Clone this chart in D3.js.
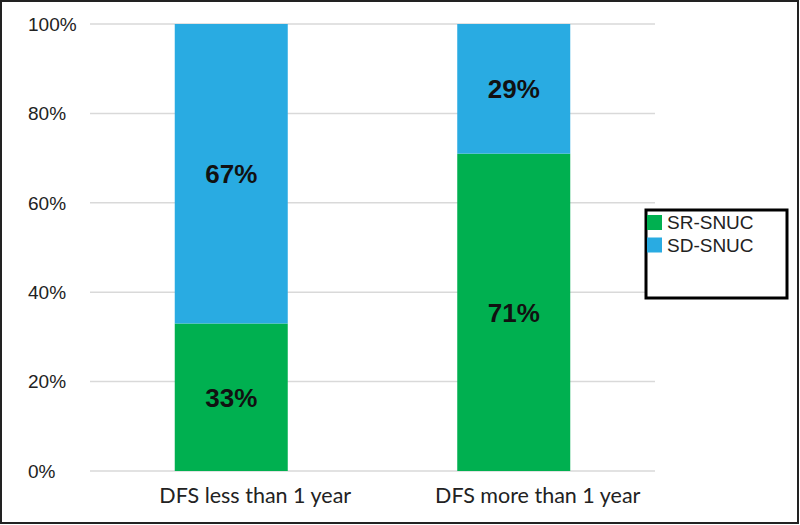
<!DOCTYPE html>
<html><head><meta charset="utf-8">
<script src="https://cdn.jsdelivr.net/npm/d3@7"></script>
<style>body{margin:0;background:#fff}svg{display:block}</style>
</head><body>
<svg id="c" width="800" height="525"></svg>
<script>
const categories = ["DFS less than 1 year", "DFS more than 1 year"];
const srSnuc = [33, 71];
const sdSnuc = [67, 29];
const seriesNames = ["SR-SNUC", "SD-SNUC"];
const colors = ["#00B050", "#29ABE2"];
const yTicks = [0, 20, 40, 60, 80, 100];

const svg = d3.select("#c");
svg.append("rect").attr("x",1).attr("y",1).attr("width",797).attr("height",522)
  .attr("fill","#fff").attr("stroke","#222").attr("stroke-width",2);

const x = d3.scaleBand().domain(categories).range([90,655]).paddingInner(0.6).paddingOuter(0.3);
const y = d3.scaleLinear().domain([0,100]).range([471,24]);

const g = svg.append("g");
g.selectAll("line.grid").data(yTicks).join("line")
  .attr("x1",90).attr("x2",655).attr("y1",d=>y(d)).attr("y2",d=>y(d))
  .attr("stroke","#d9d9d9").attr("stroke-width",1.5);

g.selectAll("text.yt").data(yTicks).join("text")
  .attr("x",28).attr("y",d=>y(d)).attr("dy","0.36em").attr("text-anchor","start")
  .attr("font-family","Liberation Sans, Arial, sans-serif").attr("font-size",19).attr("fill","#222")
  .text(d=>d+"%");

const rows = categories.map((c,i)=>({cat:c, sr:srSnuc[i], sd:sdSnuc[i]}));
const stack = d3.stack().keys(["sr","sd"])(rows);
stack.forEach((s,si)=>{
  g.selectAll("rect.s"+si).data(s).join("rect")
    .attr("x",d=>x(d.data.cat)).attr("width",x.bandwidth())
    .attr("y",d=>y(d[1])).attr("height",d=>y(d[0])-y(d[1]))
    .attr("fill",colors[si]);
  g.selectAll("text.l"+si).data(s).join("text")
    .attr("x",d=>x(d.data.cat)+x.bandwidth()/2).attr("y",d=>(y(d[0])+y(d[1]))/2)
    .attr("dy","0.36em").attr("text-anchor","middle")
    .attr("font-family","Liberation Sans, Arial, sans-serif").attr("font-weight","bold")
    .attr("font-size",26).attr("fill","#111")
    .text(d=>(d[1]-d[0])+"%");
});

g.selectAll("text.xt").data(categories).join("text")
  .attr("x",d=>x(d)+x.bandwidth()/2+24).attr("y",503).attr("text-anchor","middle")
  .attr("font-family","Lato, sans-serif").attr("font-size",21.5).attr("fill","#222")
  .text(d=>d);

const lg = svg.append("g");
lg.append("rect").attr("x",646).attr("y",210).attr("width",141).attr("height",88)
  .attr("fill","#fff").attr("stroke","#000").attr("stroke-width",3);
seriesNames.forEach((n,i)=>{
  lg.append("rect").attr("x",647).attr("y",215+i*22.5).attr("width",15).attr("height",15).attr("fill",colors[i]);
  lg.append("text").attr("x",667).attr("y",222.5+i*22.5).attr("dy","0.36em")
    .attr("font-family","Liberation Sans, Arial, sans-serif").attr("font-size",19).attr("fill","#222").text(n);
});
</script>
</body></html>
